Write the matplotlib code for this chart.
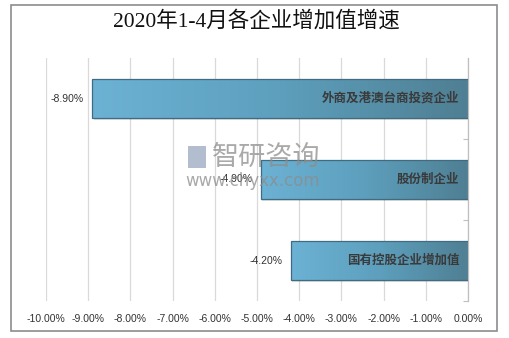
import numpy as np
import matplotlib.pyplot as plt
from matplotlib.colors import LinearSegmentedColormap
from matplotlib.patches import Rectangle

plt.rcParams['font.family'] = ['Liberation Sans', 'Noto Sans CJK SC', 'DejaVu Sans']

# --- Data ---
categories = ["外商及港澳台商投资企业", "股份制企业", "国有控股企业增加值"]
growth = [-8.90, -4.90, -4.20]
x_ticks = [-10, -9, -8, -7, -6, -5, -4, -3, -2, -1, 0]
title = "2020年1-4月各企业增加值增速"

W, H = 510, 338
fig = plt.figure(figsize=(W / 100, H / 100), dpi=100)

# outer frame
fig.patches.append(Rectangle((11 / W, 1 - 331 / H), 486 / W, 326 / H,
                             transform=fig.transFigure, fill=False,
                             edgecolor="#8c8c8c", linewidth=1.2))

fig.text(256 / W, 1 - 21 / H, title, ha="center", va="center", fontsize=15.5,
         family=["Liberation Serif", "Noto Sans CJK SC"], color="#111111")

ax = fig.add_axes([46 / W, 1 - 301 / H, 422 / W, 243 / H])
ax.set_xlim(-10, 0)
ax.set_ylim(-0.5, 2.5)

cmap = LinearSegmentedColormap.from_list("bar", ["#6cb2d4", "#5d9fbd", "#4f7f93"])
grad = np.linspace(0, 1, 256).reshape(1, -1)

ypos = [2, 1, 0]
bars = ax.barh(ypos, growth, height=0.48, color="none",
               edgecolor="#3f6c80", linewidth=0.9, zorder=3)
for b, val, name, y in zip(bars, growth, categories, ypos):
    x0, w = b.get_x(), b.get_width()
    left, right = min(x0, x0 + w), max(x0, x0 + w)
    # soft shadow under the bar
    ax.add_patch(Rectangle((left + 0.03, y - 0.24 - 0.025), right - left, 0.48,
                           facecolor="#000000", alpha=0.12, linewidth=0, zorder=1))
    im = ax.imshow(grad, cmap=cmap, aspect="auto", zorder=2,
                   extent=(left, right, y - 0.24, y + 0.24))
    im.set_clip_path(b)
    ax.text(left - 0.2, y, f"{val:.2f}%", ha="right", va="center",
            fontsize=7.5, color="#333333", zorder=5)
    ax.text(-0.2, y, name, ha="right", va="center", fontsize=9,
            fontweight="bold", color="#3a3a3a", zorder=5,
            family=["Noto Sans CJK SC"])

ax.set_xticks(x_ticks)
ax.set_xticklabels([f"{t:.2f}%" for t in x_ticks], fontsize=7.5, color="#333333")
ax.tick_params(axis="x", length=0, pad=9)
ax.grid(axis="x", color="#d9d9d9", linewidth=0.9, zorder=0)
ax.set_axisbelow(True)

for s in ["top", "left", "bottom"]:
    ax.spines[s].set_visible(False)
ax.spines["right"].set_color("#bfbfbf")
ax.spines["right"].set_linewidth(0.9)
ax.yaxis.tick_right()
ax.set_yticks([-0.5, 0.5, 1.5])
ax.set_yticklabels([])
ax.tick_params(axis="y", direction="in", length=3.5, color="#bfbfbf")

# watermark
fig.text(212 / W, 1 - 157 / H, "智研咨询", fontsize=19.5, color="#8c8c8c",
         alpha=0.75, va="center", ha="left", family=["Noto Sans CJK SC"], zorder=10)
fig.text(185 / W, 1 - 181 / H, "www.chyxx.com", fontsize=12, color="#8c8c8c",
         alpha=0.75, va="center", ha="left", family=["DejaVu Sans"], zorder=10)
fig.patches.append(Rectangle((188 / W, 1 - 168 / H), 18 / W, 22 / H,
                             transform=fig.transFigure, facecolor="#7f93b0",
                             alpha=0.6, linewidth=0, zorder=10))

fig.savefig("out.png", dpi=100)
